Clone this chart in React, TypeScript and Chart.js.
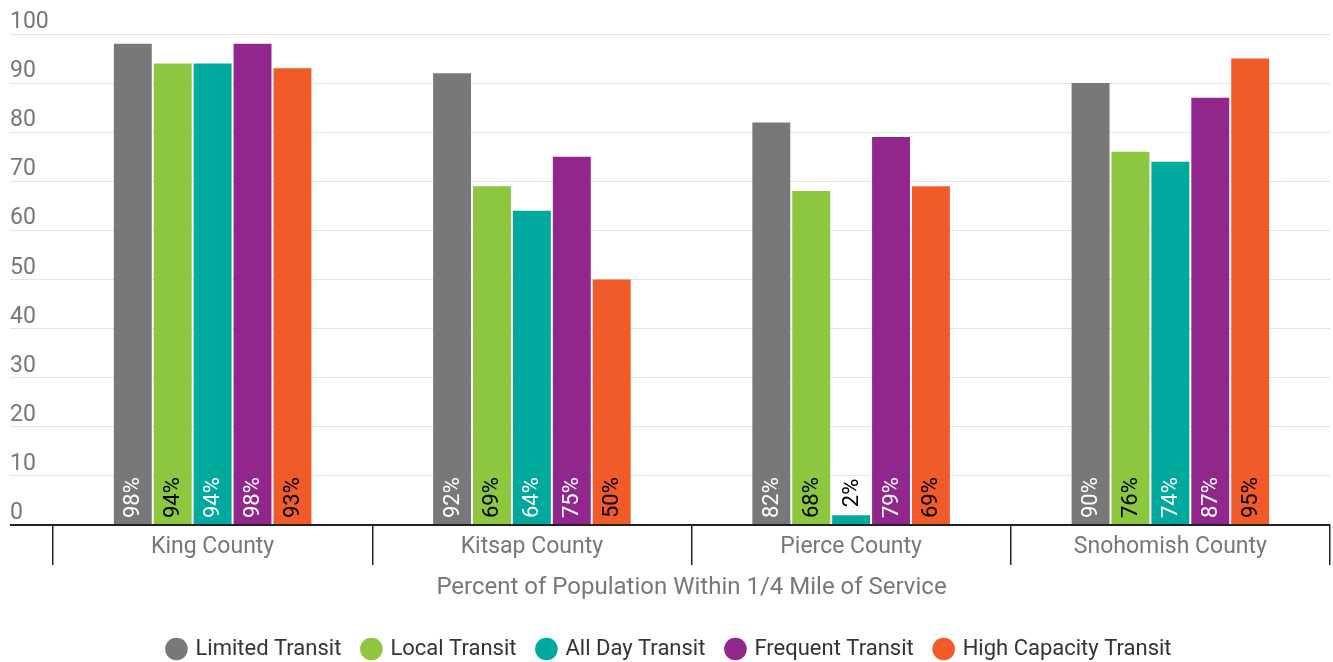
import React, { useEffect, useRef } from "react";
import { Chart, registerables } from "chart.js";

Chart.register(...registerables);

const categories = ["King County", "Kitsap County", "Pierce County", "Snohomish County"];
const seriesNames = ["Limited Transit", "Local Transit", "All Day Transit", "Frequent Transit", "High Capacity Transit"];
const limitedTransit = [98, 92, 82, 90];
const localTransit = [94, 69, 68, 76];
const allDayTransit = [94, 64, 2, 74];
const frequentTransit = [98, 75, 79, 87];
const highCapacityTransit = [93, 50, 69, 95];
const yTicks = [0, 10, 20, 30, 40, 50, 60, 70, 80, 90, 100];
const axisTitle = "Percent of Population Within 1/4 Mile of Service";

const colors = ["#78787a", "#8dc63f", "#00a99d", "#91278d", "#f15a29"];
const labelColors = ["#ffffff", "#000000", "#ffffff", "#ffffff", "#000000"];
const FONT = "Roboto";

const yLabelPlugin = {
  id: "yLabels",
  afterDraw(chart: any) {
    const { ctx } = chart;
    const y = chart.scales.y;
    ctx.save();
    ctx.font = `23px ${FONT}`;
    ctx.fillStyle = "#777777";
    ctx.textAlign = "left";
    ctx.textBaseline = "alphabetic";
    yTicks.forEach((v) => {
      const py = y.getPixelForValue(v);
      ctx.fillText(String(v), 10, py - 6);
    });
    ctx.restore();
  },
};

const barLabelPlugin = {
  id: "barLabels",
  afterDatasetsDraw(chart: any) {
    const { ctx } = chart;
    ctx.save();
    ctx.font = `22px ${FONT}`;
    chart.data.datasets.forEach((ds: any, di: number) => {
      const meta = chart.getDatasetMeta(di);
      meta.data.forEach((bar: any, i: number) => {
        const v = ds.data[i];
        const text = `${v}%`;
        const w = ctx.measureText(text).width;
        const h = bar.base - bar.y;
        let start: number;
        let color: string;
        if (h > w + 12) {
          start = bar.base - 6;
          color = labelColors[di];
        } else {
          start = bar.y - 8;
          color = "#000000";
        }
        ctx.save();
        ctx.translate(bar.x + 1, start);
        ctx.rotate(-Math.PI / 2);
        ctx.fillStyle = color;
        ctx.textAlign = "left";
        ctx.textBaseline = "middle";
        ctx.fillText(text, 0, 0);
        ctx.restore();
      });
    });
    ctx.restore();
  },
};

export default function App() {
  const ref = useRef<HTMLCanvasElement | null>(null);
  useEffect(() => {
    document.body.style.margin = "0";
    document.body.style.overflow = "hidden";
    const values = [limitedTransit, localTransit, allDayTransit, frequentTransit, highCapacityTransit];
    const chart = new Chart(ref.current as HTMLCanvasElement, {
      type: "bar",
      data: {
        labels: categories,
        datasets: seriesNames.map((name, i) => ({
          label: name,
          data: values[i],
          backgroundColor: colors[i],
          borderWidth: 0,
          barPercentage: 0.95,
          categoryPercentage: 0.625,
        })),
      },
      options: {
        responsive: false,
        animation: false,
        layout: { padding: { left: 10, right: 3, top: 34, bottom: -8 } },
        plugins: {
          tooltip: { enabled: false },
          legend: {
            position: "bottom",
            labels: {
              usePointStyle: true,
              pointStyle: "circle",
              boxWidth: 16,
              boxHeight: 16,
              padding: 22,
              color: "#333333",
              font: { family: FONT, size: 22 },
            },
          },
        },
        scales: {
          x: {
            grid: {
              offset: true,
              drawOnChartArea: false,
              drawTicks: true,
              tickLength: 40,
              color: "#222222",
              lineWidth: 1.5,
            },
            border: { display: true, color: "#222222", width: 2 },
            ticks: {
              padding: -32,
              color: "#777777",
              font: { family: FONT, size: 23 },
            },
            title: {
              display: true,
              text: axisTitle,
              color: "#777777",
              font: { family: FONT, size: 24 },
              padding: { top: 45, bottom: 13.6 },
            },
          },
          y: {
            min: 0,
            max: 100,
            ticks: { display: false, stepSize: 10 },
            grid: {
              drawTicks: true,
              tickLength: 43,
              color: (c: any) => (c.tick && c.tick.value === 0 ? "#222222" : "#e3e3e3"),
              lineWidth: (c: any) => (c.tick && c.tick.value === 0 ? 2 : 1),
            },
            border: { display: false },
          },
        },
      },
      plugins: [yLabelPlugin, barLabelPlugin],
    });
    return () => chart.destroy();
  }, []);
  return <canvas ref={ref} width={1333} height={662} style={{ display: "block" }} />;
}
